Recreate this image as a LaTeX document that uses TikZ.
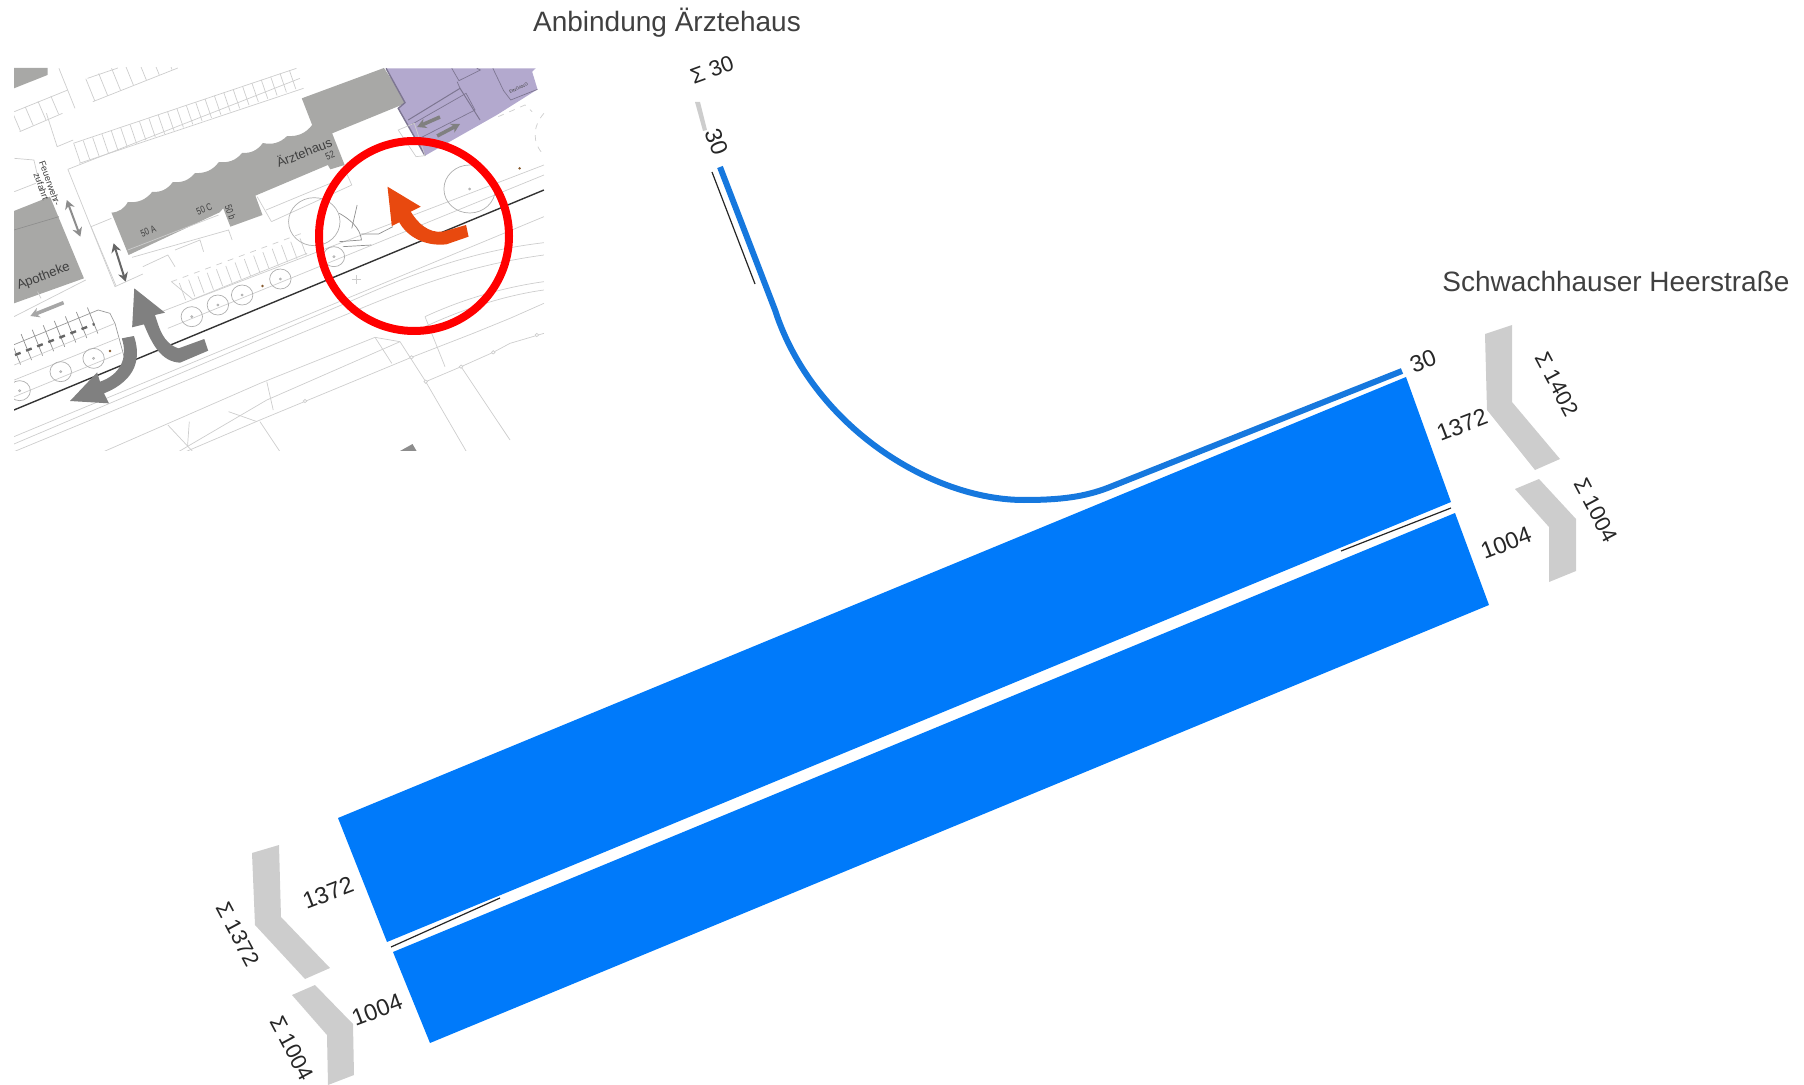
\documentclass[tikz,border=0pt]{standalone}
\usepackage{fontspec}
\usepackage{xcolor}
\setmainfont{Liberation Sans}
\usetikzlibrary{arrows.meta}
\definecolor{flow}{RGB}{0,122,250}
\definecolor{flowline}{RGB}{22,120,222}
\definecolor{sumgray}{RGB}{205,205,205}
\definecolor{house}{RGB}{168,168,166}
\definecolor{clinic}{RGB}{179,169,206}
\definecolor{clinicline}{RGB}{125,118,145}
\definecolor{turngray}{RGB}{128,128,128}
\definecolor{turnnew}{RGB}{232,73,15}
\definecolor{plan}{RGB}{205,205,205}
\begin{document}
\begin{tikzpicture}[
  x=0.5pt, y=-0.5pt,
  every node/.style={inner sep=0pt, text=black!85},
  road/.style={font=\fontsize{14}{16}\selectfont, text=black!75},
  count/.style={font=\fontsize{11.7}{14}\selectfont, rotate=#1},
  count/.default=21,
  total/.style={font=\fontsize{11}{14}\selectfont, rotate=#1},
  total/.default=-62,
  lane/.style={fill=flow},
  summe/.style={fill=sumgray},
  median/.style={draw=black!85, line width=0.6pt},
  planline/.style={draw=plan, line width=0.35pt},
  bays/.style={draw=plan, line width=#1, dash pattern=on 0.35pt off 4.6pt},
  widebays/.style={draw=plan, line width=#1, dash pattern=on 0.35pt off 6.6pt},
  tree/.style={draw=plan!85!black, line width=0.35pt},
  smallarrow/.style={draw=turngray, <->, line width=1pt},
  maptext/.style={font=\fontsize{#1}{#1}\selectfont, text=black!75},
  maptext/.default=6.5,
  >={Stealth[length=4.5pt, width=5pt]},
]
\useasboundingbox (0,0) rectangle (1804,1085);

% Site plan
\begin{scope}
\clip (14,68) rectangle (544,451);
\begin{scope}[shift={(0,50)}, x=0.17857pt, y=-0.16667pt]
  % buildings
  \fill[house] (39,54) -- (133,54) -- (133,75) -- (39,115) -- cycle;
  \fill[house] (39,483) -- (140,440) -- (235,685) -- (39,760) -- cycle;
  \fill[house] (312,488) to[bend right=28] (358,456) to[bend right=28] (426,426)
    to[bend right=28] (484,396) to[bend right=28] (546,369) to[bend right=28] (613,336)
    to[bend right=28] (678,309) to[bend right=28] (736,279) to[bend right=28] (804,258)
    to[bend right=28] (874,225) -- (845,145) -- (1075,54) -- (1140,158) -- (930,250)
    -- (965,345) -- (925,358) -- (918,345) -- (715,437) -- (735,495) -- (645,530)
    -- (625,475) -- (615,487) -- (360,615) -- cycle;
  \fill[clinic] (1081,55) -- (1500,55) -- (1490,65) -- (1505,118) -- (1428,170) -- (1391,195)
    -- (1190,317) -- (1115,175) -- (1134,158) -- cycle;
  \draw[clinicline, line width=0.7pt] (1081,55) -- (1134,158) -- (1115,175) -- (1190,317);
  \draw[clinicline, line width=0.5pt] (1143,210) -- (1288,115) -- (1344,210);
  \draw[clinicline, line width=0.35pt] (1150,225) -- (1305,130) -- (1330,180) -- (1175,265);
  \draw[clinicline, line width=0.35pt] (1265,55) -- (1285,92) -- (1345,60) -- (1335,55);
  \draw[clinicline, line width=0.35pt] (1380,55) -- (1410,122) -- (1430,150) -- (1505,118);
  \draw[clinicline, line width=0.35pt] (1288,115) -- (1280,95);
  \draw[planline] (1115,240) -- (1160,220) -- (1190,317) -- (1165,320) -- cycle;
  \draw[planline, dashed] (1395,200) -- (1470,165) -- (1490,185);
  \draw[planline, dashed] (1523,190) .. controls (1490,230) and (1490,280) .. (1523,315);
  % parking
  \draw[widebays=12pt] (252,120) -- (470,25);
  \draw[planline] (245,85) -- (330,54);
  \draw[planline] (260,155) -- (498,54);
  \draw[bays=10pt] (215,310) -- (830,85);
  \draw[planline] (205,280) -- (830,55);
  \draw[planline] (222,340) -- (850,115);
  \draw[widebays=10pt] (45,215) -- (165,160);
  \draw[planline] (40,185) -- (190,120);
  \draw[planline] (55,245) -- (175,190);
  \draw[planline] (165,55) -- (210,175);
  \draw[planline] (130,190) -- (160,290) -- (205,270);
  % frame of the building
  \draw[planline] (190,358) -- (840,85);
  \draw[planline] (190,358) -- (322,710) -- (400,672);
  \draw[planline] (255,530) -- (312,505);
  \draw[planline] (255,530) -- (325,708);
  \draw[planline] (358,600) -- (612,495);
  \draw[planline] (370,622) -- (640,540) -- (650,570);
  \draw[planline] (400,650) -- (470,615) -- (490,650);
  \draw[planline] (490,600) -- (560,570) -- (570,605);
  \draw[planline] (720,440) -- (760,515);
  \draw[planline] (745,480) -- (925,400);
  \draw[planline] (760,515) -- (985,405) -- (960,345);
  \draw[planline] (40,325) -- (95,330) -- (110,400);
  \draw[planline] (40,425) -- (100,400);
  \draw[planline] (39,800) -- (240,690);
  \draw[planline] (105,725) -- (115,745);
  \draw[black!45, line width=0.3pt] (39,540) -- (165,500);
  % stalls
  \draw[widebays=14pt, draw=plan!70!black, dash pattern=on 0.35pt off 5.6pt] (42,905) -- (275,805);
  \draw[planline, draw=plan!75!black] (37,885) -- (275,780) -- (308,790) -- (322,820) -- (350,930);
  \draw[planline] (40,945) -- (322,820);
  \draw[draw=plan!50!black, line width=1.2pt, dash pattern=on 3pt off 2.95pt] (42,915) -- (265,822);
  % angled parking
  \draw[bays=9pt] (510,725) -- (850,590);
  \draw[planline, dashed] (480,695) -- (850,548);
  \draw[planline] (480,695) -- (540,748) -- (860,610);
  % road lines
  \draw[planline] (40,1040) -- (340,908);
  \draw[planline] (40,990) -- (330,865);
  \draw[planline] (440,790) -- (1523,345);
  \draw[planline] (470,835) -- (1523,375);
  \draw[black!80, line width=0.7pt] (39,1080) -- (1523,420);
  \draw[planline] (39,1160) -- (1523,500);
  \draw[planline] (39,1182) -- (1000,745) .. controls (1200,650) and (1350,600) .. (1523,578);
  \draw[planline] (39,1205) -- (1000,780) .. controls (1200,690) and (1350,640) .. (1523,615);
  \draw[planline] (1190,800) .. controls (1300,745) and (1420,710) .. (1523,695);
  \draw[planline] (1190,830) .. controls (1300,775) and (1420,735) .. (1523,720);
  % blocks below the road
  \draw[planline] (290,1205) -- (728,1000) -- (1050,862) -- (1120,875) -- (1192,995) -- (1306,1205);
  \draw[planline] (500,1205) -- (747,1050) -- (1120,875);
  \draw[planline] (520,1205) -- (728,1110) -- (1152,922) -- (1325,850) -- (1428,805) -- (1523,760);
  \draw[planline] (1192,995) -- (1291,950) -- (1381,907) -- (1428,880) -- (1523,850);
  \draw[planline] (1291,950) -- (1428,1170);
  \draw[planline] (1050,862) -- (1097,940);
  \draw[planline] (1190,800) -- (1246,950);
  \draw[planline] (747,995) -- (765,1080);
  \draw[planline] (728,1115) -- (784,1205);
  \draw[planline] (470,1125) -- (540,1205);
  \draw[planline] (640,1085) -- (720,1115);
  \draw[planline] (530,1115) -- (525,1190);
  \draw[planline, fill=white] (1152,922) circle (5);
  \draw[planline, fill=white] (1192,995) circle (5);
  \draw[planline, fill=white] (1291,950) circle (5);
  \draw[planline, fill=white] (1381,907) circle (5);
  \draw[planline, fill=white] (854,1053) circle (5);
  \draw[planline, fill=white] (1503,855) circle (5);
  \fill[turngray!90] (1115,1206) -- (1155,1182) -- (1168,1206) -- cycle;
  % trees
  \draw[tree] (537,800) circle (30);
  \draw[tree] (610,765) circle (30);
  \draw[tree] (678,735) circle (30);
  \draw[tree] (785,687) circle (30);
  \draw[tree] (170,965) circle (30);
  \draw[tree] (262,925) circle (30);
  \draw[tree] (55,1022) circle (30);
  \draw[tree] (935,620) circle (30);
  \draw[tree] (1315,417) circle (72);
  \draw[tree] (880,515) circle (72);
  \draw[tree] (537,800) circle (3);
  \draw[tree] (610,765) circle (3);
  \draw[tree] (678,735) circle (3);
  \draw[tree] (785,687) circle (3);
  \draw[tree] (170,965) circle (3);
  \draw[tree] (262,925) circle (3);
  \draw[tree] (55,1022) circle (3);
  \draw[tree] (935,620) circle (3);
  \draw[tree] (1315,417) circle (3);
  \fill[brown!70!black] (735,708) circle (4);
  \fill[brown!70!black] (308,903) circle (4);
  \fill[brown!70!black] (1455,355) circle (4);
  % junction sketch
  \draw[planline, draw=plan!70!black] (950,490) .. controls (1000,520) and (1010,550) .. (1012,570) -- (950,575);
  \draw[planline, draw=plan!70!black] (985,535) -- (1000,465);
  \draw[planline, draw=plan!70!black] (1012,552) -- (1060,552) -- (1100,530);
  \draw[planline, draw=plan!70!black] (960,590) -- (1040,585);
  \draw[planline] (985,688) -- (1012,688);
  \draw[planline] (997,675) -- (997,702);
  % small arrows
  \draw[smallarrow, draw=turngray!90] (187,450) -- (225,560);
  \draw[smallarrow, draw=black!60] (318,580) -- (352,695);
  \draw[->, draw=turngray!70, line width=1.8pt] (178,758) -- (85,798);
  \draw[->, draw=turngray, line width=1.8pt] (1232,201) -- (1168,231);
  \draw[->, draw=turngray, line width=1.8pt] (1224,258) -- (1288,222);
  % turning arrows
  \fill[turngray] (376,715) -- (462,788) -- (434,795) .. controls (445,830) and (455,880) .. (500,895)
    -- (572,867) -- (583,902) -- (504,938) .. controls (450,935) and (425,880) .. (403,823)
    -- (370,832) -- cycle;
  \fill[turngray] (341,865) -- (375,858) .. controls (395,920) and (385,990) .. (291,1030)
    -- (305,1060) -- (196,1053) -- (272,967) -- (280,995) .. controls (335,975) and (360,925) .. (341,865) -- cycle;
  \fill[turnnew] (1085,410) -- (1178,470) -- (1150,485) .. controls (1170,520) and (1200,550) .. (1240,545)
    -- (1305,525) -- (1312,560) -- (1250,583) .. controls (1190,590) and (1140,560) .. (1118,517)
    -- (1097,528) -- cycle;
  % plan labels
  \node[maptext=6.6, rotate=21] (apotheke) at (122,680) {Apotheke};
  \node[maptext=6.5, rotate=22] (aerztehaus) at (851,306) {Ärztehaus};
  \node[maptext=5, rotate=22, xscale=0.8] (nr52) at (924,317) {52};
  \node[maptext=5, rotate=22, xscale=0.75] (nr50a) at (415,543) {50 A};
  \node[maptext=5, rotate=22, xscale=0.75] (nr50c) at (572,477) {50 C};
  \node[maptext=5, rotate=-70, xscale=0.75] (nr50b) at (645,486) {50 b};
  \node[maptext=4.6, rotate=-70, align=center] (feuerwehr) at (128,405) {Feuerwehr-\\zufahrt};
  \node[maptext=2.2, rotate=25] (eingang) at (1452,115) {EINGANG};
\end{scope}
\end{scope}
\draw[red, line width=4pt] (414,236) circle (95);

% Road names
\node[road] (anbindung) at (667,23) {Anbindung Ärztehaus};
\node[road] (heerstrasse) at (1616,281) {Schwachhauser Heerstraße};

% Lanes
\fill[lane] (338,818) -- (1406,377) -- (1451,502) -- (387,942) -- cycle;
\fill[lane] (393,952) -- (1455,513) -- (1489,605) -- (430,1043) -- cycle;
\draw[flowline, line width=3pt] (720,167) -- (775,310) .. controls (812,425) and (930,500) .. (1024,500)
  .. controls (1060,500) and (1085,497) .. (1110,487) -- (1402,371);

% Medians
\draw[median] (712,172) -- (755,284);
\draw[median] (1341,551) -- (1451,508);
\draw[median] (391,947) -- (500,898);

% Sum bars
\fill[summe] (1485,334) -- (1512,325) -- (1512,402) -- (1560,459) -- (1535,470) -- (1487,410) -- cycle;
\fill[summe] (1515,489) -- (1539,479) -- (1576,519) -- (1576,571) -- (1549,582) -- (1549,527) -- cycle;
\fill[summe] (252,853) -- (279,845) -- (281,917) -- (330,968) -- (305,979) -- (255,925) -- cycle;
\fill[summe] (292,995) -- (315,985) -- (353,1024) -- (354,1075) -- (328,1085) -- (327,1035) -- cycle;
\fill[summe] (695,102) -- (700,102) -- (707,130) -- (703,131) -- cycle;

% Counts
\node[count] (in30) at (1423,361) {30};
\node[count] (in1372) at (1462,425) {1372};
\node[count] (in1004) at (1506,543) {1004};
\node[count] (out1372) at (328,893) {1372};
\node[count] (out1004) at (377,1010) {1004};
\node[count=-70] (top30) at (717,142) {30};
\node[total] (sum1402) at (1557,384) {Σ 1402};
\node[total] (sumright) at (1596,510) {Σ 1004};
\node[total] (sum1372) at (238,934) {Σ 1372};
\node[total] (sumleft) at (292,1048) {Σ 1004};
\node[total=20] (sum30) at (712,70) {Σ 30};
\end{tikzpicture}
\end{document}
